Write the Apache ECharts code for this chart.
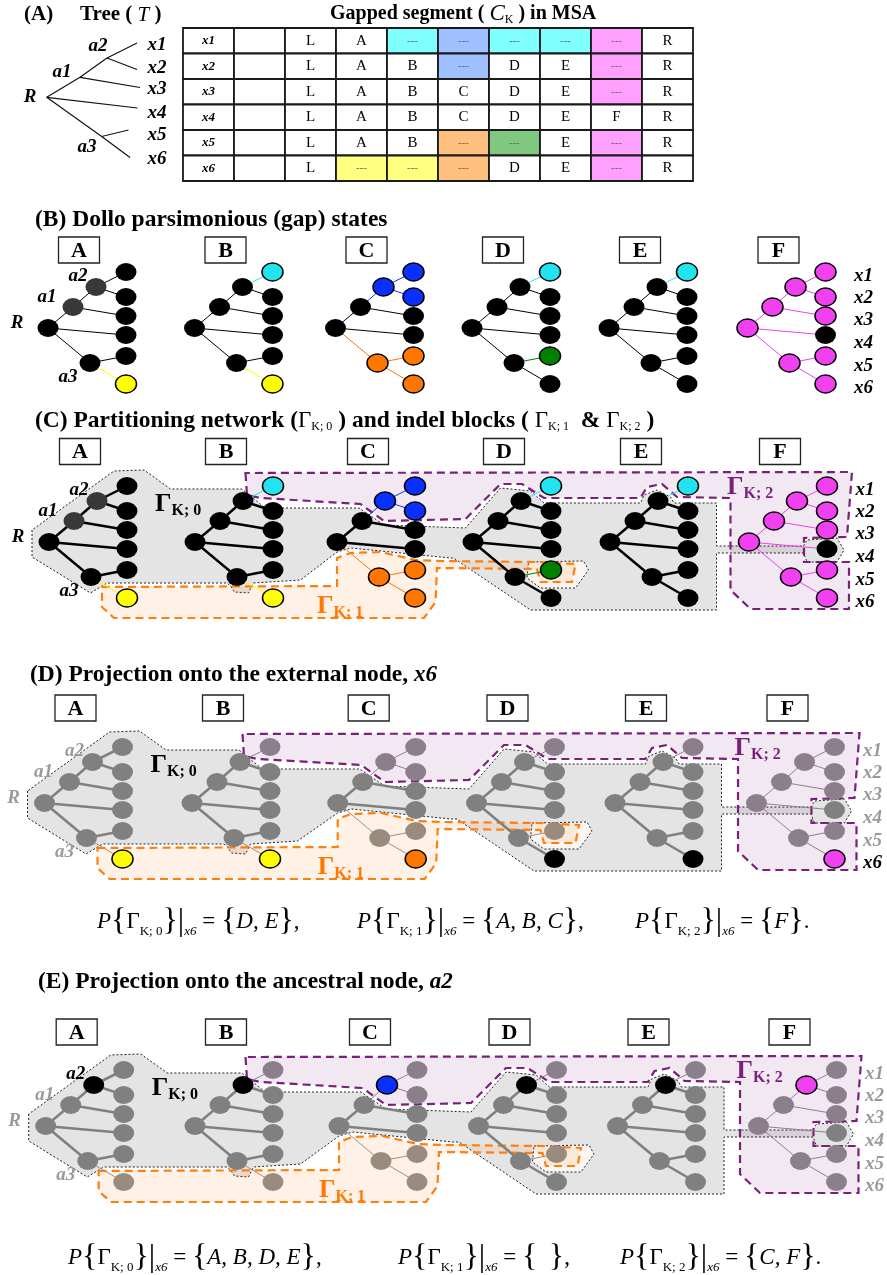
<!DOCTYPE html>
<html><head><meta charset="utf-8">
<script src="https://cdn.jsdelivr.net/npm/echarts@6/dist/echarts.min.js"></script>
<style>html,body{margin:0;padding:0;background:#fff}#c{width:887px;height:1275px}</style>
</head><body><div id="c"></div>
<script>
// ================= DATA =================
const panels = ['A','B','C','D','E','F'];
const nodeNames = ['R','a1','a2','a3','x1','x2','x3','x4','x5','x6'];
const leafNames = ['x1','x2','x3','x4','x5','x6'];
const edges = [[0,1],[1,2],[2,4],[2,5],[1,6],[0,7],[0,3],[3,8],[3,9]];
// gap-block membership of each node (0 = Γ K;0, 1 = Γ K;1, 2 = Γ K;2), order = nodeNames
const blockA = [0,0,0,0, 0,0,0,0,0,1];
const blockB = [0,0,0,0, 2,0,0,0,0,1];
const blockC = [0,0,2,1, 2,2,0,0,1,1];
const blockD = [0,0,0,0, 2,0,0,0,1,0];
const blockE = [0,0,0,0, 2,0,0,0,0,0];
const blockF = [2,2,2,2, 2,2,2,0,2,2];
const blocks = [blockA, blockB, blockC, blockD, blockE, blockF];
const msaFlankLeft = 'L';
const msaFlankRight = 'R';
const gapText = '---';
const setD = ['D, E', 'A, B, C', 'F'];
const setE = ['A, B, D, E', '  ', 'C, F'];

// ================= STYLE / LAYOUT =================
const SERIF = '"Liberation Serif","Times New Roman",serif';
const gap1Strong = ['#ffff00','#ffff00','#ff7700','#007f00',null,null];
const gap2Strong = [null,'#22e4f0','#0a30ff','#22e4f0','#22e4f0','#f040f0'];
const gap1Light  = ['#ffff80','#ffff80','#ffc080','#80c880',null,null];
const gap2Light  = [null,'#80ffff','#a0c0ff','#80ffff','#80ffff','#ffa0ff'];
const dimNode = ['#808080','#9a8b7f','#8c7f8c'];
const dimEdge = ['#808080','#a08e80','#907f90'];
const nodeDX = [0,25,48,42,78,78,78,78,78,78];
const nodeDY = [0,-21,-41,35,-56,-31,-12,7,28,56];
const innerLabelOff = [[-31,-5],[-1,-31],[30,-52],[20,49]];
const leafLabelDX = 116;
const leafLabelDY = [-52,-30,-8,15,38,60];
const ROOT_DX = -31;
const sections = [
  {boxY:250,   rootY:328,  boxX:[79,225.5,366.5,503,640,778.5],      mode:'states'},
  {boxY:451.5, rootY:542,  boxX:[80,226,368,504,641,780],            mode:'partition'},
  {boxY:708,   rootY:803,  boxX:[75.5,223,368.7,507.5,646,787.5],    mode:'project', target:9},
  {boxY:1032,  rootY:1126, boxX:[76.7,226,370,509.5,648.5,789.5],    mode:'project', target:2}
];
// region outlines: [panel, dx from root, dy from root]
const gamma0Outline = [[0,-17,-12],[0,-17,15],[0,41.5,51],[0,58,41],[1,32,41],[1,35.5,44],[1,39.5,50],[1,53.5,51],[1,58.5,41],[1,105.5,38],
 [2,0,10],[2,13.5,6],[2,113.5,16],[3,-19.5,16],[3,57.5,68],[4,106.5,68],[4,106.5,11],[5,54.5,11],[5,58,20],[5,88,20],[5,95,8],[5,88,-4],[5,58,-2],[5,54.5,4],[4,106.5,4],
 [4,106.5,-39],[4,64,-39],[4,60.5,-45],[4,47,-52],[4,34,-47],[4,30.5,-39],[3,71,-39],[3,57.5,-51],[3,27.5,-54],[3,-7.5,-14],[2,47,-17],[2,22,-34],[1,89,-34],[1,69,-35],[1,50.5,-50],[1,47,-53],[0,121.5,-53],[0,95,-72],[0,65,-71]];
const gamma0Hole = [[3,55.5,20],[3,110.5,19],[3,115.5,28],[3,102.5,46],[3,67.5,46],[3,54,36]];
const gamma1Outline = [[0,53,45],[2,0,44],[2,0,16],[2,13.5,11],[2,43.5,10],[2,78.5,18],[3,-32.5,19],[3,62,20],[3,102.5,22],[3,99,40],[3,67.5,40],[3,64,27],[2,100,26],[2,98.5,60],[2,87,76],[0,65,76],[0,53,65]];
const gamma2Outline = [[1,50.5,-69],[1,52,-47],[1,65.5,-44],[2,23.5,-38],[2,47,-21],[3,-7.5,-23],[3,27.5,-58],[3,49,-58],[3,71,-44],[4,30.5,-44],[4,37,-55],[4,52,-58],[4,67,-45],[5,-18.5,-44],[5,-18.5,48],[5,1.5,67],[5,100,67],[5,100,20],[5,55,20],[5,55,-4],[5,98,-5],[5,103,-70]];
// section (A) cladogram layout
const cladoPos = [[46.7,97.3],[80,77.3],[107,58],[101.7,136.5],[137,43],[137,69.5],[140,87.5],[137.5,108],[128.5,130],[130,157.5]];
const cladoLabelPos = [[30,97],[62,72],[98,46],[87,147],[157,45],[157,68],[157,89],[157,113],[157,135],[157,159]];
// table layout
const tableGrid = {left:183, top:28, width:510, height:153};

// ================= BUILD =================
const edgeData = [], nodeData = [], polyData = [], textData = [], boxData = [];
const lbl = (bold, italic, size) => (italic?'italic ':'') + (bold?'bold ':'') + size + 'px ' + SERIF;

// section A tree
edges.forEach(([a,b]) => edgeData.push({coords:[cladoPos[a], cladoPos[b]], lineStyle:{color:'#111', width:1.2}}));
nodeNames.forEach((n,i) => textData.push({x:cladoLabelPos[i][0], y:cladoLabelPos[i][1], text:n, font:lbl(true,true,19), color:'#000'}));

sections.forEach((sec, si) => {
  const rx = p => sec.boxX[p] + ROOT_DX;
  const ry = sec.rootY;
  sec.boxX.forEach((bx, p) => {
    boxData.push({value:[bx, sec.boxY], name:panels[p]});
    const blk = blocks[p];
    const strong = b => b===1 ? gap1Strong[p] : b===2 ? gap2Strong[p] : '#000';
    const pos = nodeNames.map((n,i) => [rx(p)+nodeDX[i], ry+nodeDY[i]]);
    edges.forEach(([a,b]) => {
      const cb = blk[b] || blk[a];
      let color, width;
      if (sec.mode === 'project') { color = cb ? dimEdge[cb] : '#808080'; width = cb ? 1 : 2.6; }
      else { color = cb ? strong(cb) : '#000'; width = sec.mode === 'states' ? 1 : (cb ? 1 : 2.4); }
      edgeData.push({coords:[pos[a], pos[b]], lineStyle:{color, width}});
    });
    nodeNames.forEach((n,i) => {
      const b = blk[i];
      let color, border = null;
      if (sec.mode === 'project') {
        if (i === sec.target) { color = strong(b); if (b) border = '#000'; }
        else color = dimNode[b];
      } else {
        color = strong(b);
        if (b) border = '#000';
        else if (p === 0 && (i === 1 || i === 2)) color = '#383838';
      }
      nodeData.push({value:pos[i], itemStyle:{color, opacity:1, borderColor: border || color, borderWidth: border ? 1.4 : 0}});
    });
  });
  // node labels
  const labColor = i => sec.mode === 'project' ? (i === sec.target ? '#000' : '#9a9a9a') : '#000';
  for (let i = 0; i < 4; i++) textData.push({x:rx(0)+innerLabelOff[i][0], y:ry+innerLabelOff[i][1], text:nodeNames[i], font:lbl(true,true,19), color:labColor(i)});
  leafNames.forEach((n,k) => textData.push({x:rx(5)+leafLabelDX, y:ry+leafLabelDY[k], text:n, font:lbl(true,true,19), color:labColor(k+4)}));
  if (sec.mode !== 'states') {
    const map = o => o.map(([p,dx,dy]) => [rx(p)+dx, ry+dy]);
    polyData.push({pts:map(gamma0Outline), fill:'#e4e4e4', stroke:'#222', lw:1, dash:[2,2], z:1});
    polyData.push({pts:map(gamma0Hole), fill:'#fbf6f1', stroke:'#222', lw:1, dash:[2,2], z:2});
    polyData.push({pts:map(gamma1Outline), fill:'rgba(255,130,20,0.11)', stroke:'#ff7f0e', lw:2.2, dash:[8,5], z:3});
    polyData.push({pts:map(gamma2Outline), fill:'rgba(120,30,120,0.10)', stroke:'#7a1f7a', lw:2.2, dash:[8,5], z:4});
    const gRich = c => ({g:{font:'bold 26px '+SERIF, fill:c}, s:{font:'bold 16px '+SERIF, fill:c, verticalAlign:'bottom', padding:[14,0,0,0]}});
    textData.push({x:rx(0)+106, y:ry-38, text:'{g|Γ}{s|K; 0}', align:'left', rich:gRich('#000')});
    textData.push({x:rx(2)-20, y:ry+64, text:'{g|Γ}{s|K; 1}', align:'left', rich:gRich('#ff7700')});
    textData.push({x:rx(5)-22, y:ry-55, text:'{g|Γ}{s|K; 2}', align:'left', rich:gRich('#7a1f7a')});
  }
});

// MSA table cells
const tableData = [];
leafNames.forEach((leaf, r) => {
  for (let c = 0; c < 10; c++) {
    let text = '', fill = '#fff', kind = 'n';
    if (c === 0) { text = leaf; kind = 'lab'; }
    else if (c === 2) text = msaFlankLeft;
    else if (c === 9) text = msaFlankRight;
    else if (c >= 3) {
      const p = c - 3, b = blocks[p][4 + r];
      if (b) { text = gapText; kind = 'gap'; fill = b === 1 ? gap1Light[p] : gap2Light[p]; }
      else text = panels[p];
    }
    tableData.push({value:[c, r], text, fill, kind});
  }
});

// ================= CHART =================
const chart = echarts.init(document.getElementById('c'), null, {renderer:'canvas'});
const formulaRich = {
  i:{font:'italic 23px '+SERIF, fill:'#000'},
  n:{font:'23px '+SERIF, fill:'#000'},
  b:{font:'32px '+SERIF, fill:'#000'},
  s:{font:'13px '+SERIF, fill:'#000', verticalAlign:'bottom', padding:[11,0,0,0]},
  si:{font:'italic 13px '+SERIF, fill:'#000', verticalAlign:'bottom', padding:[11,0,0,0]}
};
function formula(idx, set, end) {
  return '{i|P}{b|{}{n|Γ}{s|K; ' + idx + '}}|{si|x6}{n| = }{b|{}{i|' + set + '}}{n|' + end + '}';
}
function gtext(x, y, text, font, rich) {
  return {type:'text', x, y, style:{text, font, fill:'#000', verticalAlign:'middle', rich}};
}
const titleRich = {
  i:{font:'italic 23px '+SERIF, fill:'#000'},
  ti:{font:'italic 21px '+SERIF, fill:'#000'},
  bi:{font:'bold italic 23px '+SERIF, fill:'#000'},
  g:{font:'23px '+SERIF, fill:'#000'},
  s:{font:'12px '+SERIF, fill:'#000', verticalAlign:'bottom', padding:[11,0,0,0]}
};
const graphics = [
  gtext(24, 15, '(A)', 'bold 21px '+SERIF),
  gtext(80, 15, 'Tree ( {ti|T} )', 'bold 21px '+SERIF, titleRich),
  gtext(330, 14, 'Gapped segment ( {i|C}{s|K} ) in MSA', 'bold 20px '+SERIF, titleRich),
  gtext(35, 220, '(B) Dollo parsimonious (gap) states', 'bold 23.5px '+SERIF),
  gtext(35, 421, '(C) Partitioning network ({g|Γ}{s|K; 0} ) and indel blocks ( {g|Γ}{s|K; 1}  & {g|Γ}{s|K; 2} )', 'bold 23.5px '+SERIF, titleRich),
  gtext(30, 675, '(D) Projection onto the external node, {bi|x6}', 'bold 23.5px '+SERIF, titleRich),
  gtext(38, 982, '(E) Projection onto the ancestral node, {bi|a2}', 'bold 23.5px '+SERIF, titleRich),
  gtext(97, 922, formula(0, setD[0], ','), '32px '+SERIF, formulaRich),
  gtext(357, 922, formula(1, setD[1], ','), '32px '+SERIF, formulaRich),
  gtext(635, 922, formula(2, setD[2], '.'), '32px '+SERIF, formulaRich),
  gtext(68, 1258, formula(0, setE[0], ','), '32px '+SERIF, formulaRich),
  gtext(398, 1258, formula(1, setE[1], ','), '32px '+SERIF, formulaRich),
  gtext(620, 1258, formula(2, setE[2], '.'), '32px '+SERIF, formulaRich)
];

chart.setOption({
  animation:false,
  backgroundColor:'#fff',
  grid:[{left:0, top:0, width:887, height:1275}, tableGrid],
  xAxis:[{type:'value', min:0, max:887, show:false, gridIndex:0},
         {type:'category', data:[0,1,2,3,4,5,6,7,8,9], show:false, gridIndex:1}],
  yAxis:[{type:'value', min:0, max:1275, inverse:true, show:false, gridIndex:0},
         {type:'category', data:[0,1,2,3,4,5], inverse:true, show:false, gridIndex:1}],
  graphic:graphics,
  series:[
    {type:'custom', name:'table', xAxisIndex:1, yAxisIndex:1, silent:true, z:2,
     data:tableData.map(d => d.value),
     renderItem:(params, api) => {
       const d = tableData[params.dataIndex];
       const c = api.coord([api.value(0), api.value(1)]);
       const s = api.size([1,1]);
       const font = d.kind === 'lab' ? lbl(true,true,13) : d.kind === 'gap' ? '11px '+SERIF : '15px '+SERIF;
       return {type:'group', children:[
         {type:'rect', shape:{x:c[0]-s[0]/2, y:c[1]-s[1]/2, width:s[0], height:s[1]}, style:{fill:d.fill, stroke:'#1a1a1a', lineWidth:1.8}},
         {type:'text', x:c[0], y:c[1], style:{text:d.text, font, fill:d.kind==='gap'?'#666':'#000', align:'center', verticalAlign:'middle'}}
       ]};
     }},
    {type:'custom', name:'regions', xAxisIndex:0, yAxisIndex:0, silent:true, z:1, clip:false,
     data:polyData.map(d => d.pts[0]),
     renderItem:(params, api) => {
       const d = polyData[params.dataIndex];
       return {type:'polygon', z2:d.z, shape:{points:d.pts.map(pt => api.coord(pt))},
               style:{fill:d.fill, stroke:d.stroke, lineWidth:d.lw, lineDash:d.dash}};
     }},
    {type:'lines', name:'edges', coordinateSystem:'cartesian2d', xAxisIndex:0, yAxisIndex:0, silent:true, z:2,
     lineStyle:{opacity:1}, data:edgeData},
    {type:'scatter', name:'nodes', xAxisIndex:0, yAxisIndex:0, silent:true, z:3,
     symbol:'circle', symbolSize:[21,18], itemStyle:{opacity:1}, data:nodeData},
    {type:'custom', name:'boxes', xAxisIndex:0, yAxisIndex:0, silent:true, z:4, clip:false,
     data:boxData.map(d => d.value),
     renderItem:(params, api) => {
       const d = boxData[params.dataIndex];
       const c = api.coord(d.value);
       return {type:'group', children:[
         {type:'rect', shape:{x:c[0]-20.5, y:c[1]-13, width:41, height:26}, style:{fill:'#fff', stroke:'#222', lineWidth:1.3}},
         {type:'text', x:c[0], y:c[1]+1, style:{text:d.name, font:'bold 22px '+SERIF, fill:'#000', align:'center', verticalAlign:'middle'}}
       ]};
     }},
    {type:'custom', name:'labels', xAxisIndex:0, yAxisIndex:0, silent:true, z:5, clip:false,
     data:textData.map(t => [t.x, t.y]),
     renderItem:(params, api) => {
       const t = textData[params.dataIndex];
       const c = api.coord([t.x, t.y]);
       return {type:'text', x:c[0], y:c[1], style:{text:t.text, font:t.font || lbl(true,false,18), fill:t.color || '#000',
               align:t.align || 'center', verticalAlign:'middle', rich:t.rich}};
     }}
  ]
});
</script></body></html>
